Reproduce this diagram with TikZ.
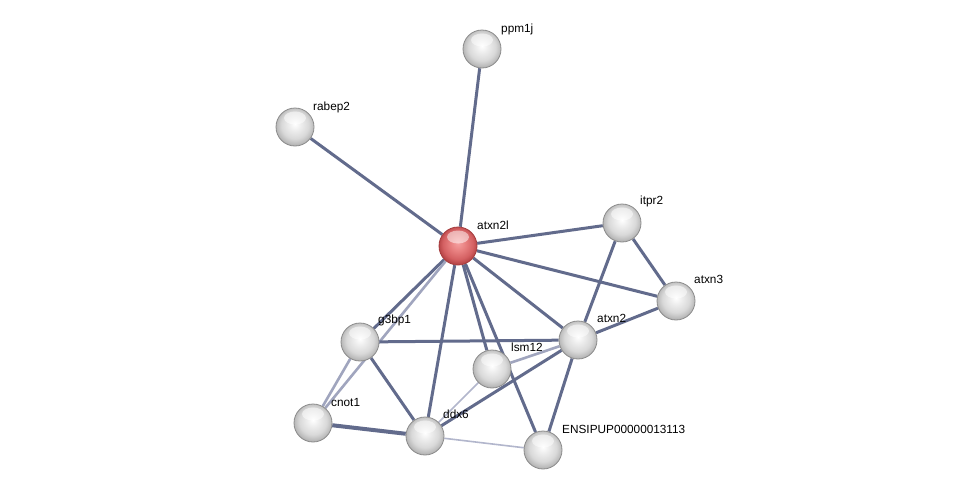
\documentclass[tikz,border=0pt]{standalone}
\usepackage{fontspec}
\setmainfont{Liberation Sans}
\usetikzlibrary{backgrounds}
\definecolor{edgedark}{RGB}{98,107,140}
\definecolor{edgelight}{RGB}{160,165,190}
\definecolor{edgepale}{RGB}{178,182,204}
\definecolor{nodeedge}{RGB}{140,140,140}
\definecolor{rededge}{RGB}{165,60,62}
\pgfdeclareradialshading{sgray}{\pgfpoint{0bp}{4bp}}{color(0bp)=(white); color(8bp)=(white!93!black); color(18bp)=(white!85!black); color(25bp)=(white!72!black); color(28bp)=(white!60!black); color(50bp)=(white!60!black)}
\pgfdeclareradialshading{sred}{\pgfpoint{0bp}{4bp}}{color(0bp)=(rgb,255:red,245;green,160;blue,160); color(10bp)=(rgb,255:red,232;green,128;blue,128); color(20bp)=(rgb,255:red,212;green,96;blue,98); color(26bp)=(rgb,255:red,180;green,66;blue,68); color(50bp)=(rgb,255:red,160;green,55;blue,58)}
\tikzset{
  prot/.style={circle, minimum size=38pt, inner sep=0pt, draw=nodeedge, line width=0.8pt, shading=sgray,
    path picture={\fill[white,opacity=0.5] ([yshift=9pt]path picture bounding box.center) ellipse (11pt and 6.5pt);}},
  query/.style={prot, draw=rededge, shading=sred},
  lab/.style={anchor=west, inner sep=0pt, font=\fontsize{11.8}{14}\selectfont, text=black},
  de/.style={draw=edgedark, line width=3pt},
  dthick/.style={draw=edgedark, line width=4pt},
  le/.style={draw=edgelight, line width=2.6pt},
  pe/.style={draw=edgepale, line width=1.6pt},
}
\begin{document}
\begin{tikzpicture}[x=1pt,y=-1pt]
\useasboundingbox (0,0) rectangle (976,496);
% nodes
\node[prot] (ppm1j) at (482,49) {};
\node[prot] (rabep2) at (295,127) {};
\node[query] (atxn2l) at (458,246) {};
\node[prot] (itpr2) at (622,223) {};
\node[prot] (atxn3) at (676,301) {};
\node[prot] (atxn2) at (578,340) {};
\node[prot] (g3bp1) at (360,342) {};
\node[prot] (lsm12) at (492,369) {};
\node[prot] (cnot1) at (313,423) {};
\node[prot] (ddx6) at (425,436) {};
\node[prot] (ens) at (543,450) {};
% labels
\node[lab] (l-ppm1j) at ([shift={(19,-20)}]ppm1j.center) {ppm1j};
\node[lab] (l-rabep2) at ([shift={(18,-20)}]rabep2.center) {rabep2};
\node[lab] (l-atxn2l) at ([shift={(19,-21)}]atxn2l.center) {atxn2l};
\node[lab] (l-itpr2) at ([shift={(18,-22)}]itpr2.center) {itpr2};
\node[lab] (l-atxn3) at ([shift={(18,-22)}]atxn3.center) {atxn3};
\node[lab] (l-atxn2) at ([shift={(19,-22)}]atxn2.center) {atxn2};
\node[lab] (l-g3bp1) at ([shift={(18,-22)}]g3bp1.center) {g3bp1};
\node[lab] (l-lsm12) at ([shift={(19,-22)}]lsm12.center) {lsm12};
\node[lab] (l-cnot1) at ([shift={(18,-21)}]cnot1.center) {cnot1};
\node[lab] (l-ddx6) at ([shift={(18,-22)}]ddx6.center) {ddx6};
\node[lab] (l-ens) at ([shift={(19,-21)}]ens.center) {ENSIPUP00000013113};
% edges (behind nodes)
\begin{scope}[on background layer]
\fill[white] (0,0) rectangle (976,496);
\draw[de] (atxn2l) -- (ppm1j);
\draw[de] (atxn2l) -- (rabep2);
\draw[de] (atxn2l) -- (itpr2);
\draw[de] (atxn2l) -- (atxn3);
\draw[de] (atxn2l) -- (atxn2);
\draw[de] (atxn2l) -- (g3bp1);
\draw[le] (atxn2l) -- (cnot1);
\draw[de] (atxn2l) -- (lsm12);
\draw[de] (atxn2l) -- (ddx6);
\draw[de] (atxn2l) -- (ens);
\draw[de] (itpr2) -- (atxn3);
\draw[de] (itpr2) -- (atxn2);
\draw[de] (atxn3) -- (atxn2);
\draw[de] (g3bp1) -- (atxn2);
\draw[de] (g3bp1) -- (ddx6);
\draw[le] (g3bp1) -- (cnot1);
\draw[dthick] (cnot1) -- (ddx6);
\draw[de] (ddx6) -- (atxn2);
\draw[pe] (ddx6) -- (lsm12);
\draw[pe] (ddx6) -- (ens);
\draw[le] (lsm12) -- (atxn2);
\draw[de] (atxn2) -- (ens);
\end{scope}
\end{tikzpicture}
\end{document}
